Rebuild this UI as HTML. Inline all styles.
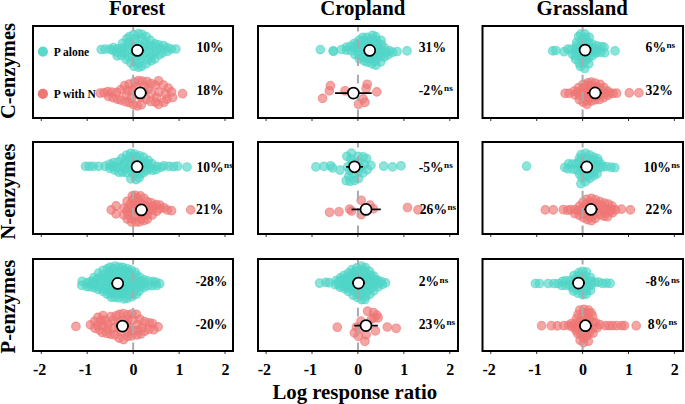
<!DOCTYPE html>
<html><head><meta charset="utf-8"><style>html,body{margin:0;padding:0;background:#fff;}svg{display:block;}</style></head>
<body><svg width="685" height="404" viewBox="0 0 685 404">
<rect width="685" height="404" fill="#fff"/>
<text x="137.1" y="15.3" font-family="'Liberation Serif', serif" font-weight="bold" font-size="20.8" text-anchor="middle">Forest</text>
<text x="362.8" y="15.3" font-family="'Liberation Serif', serif" font-weight="bold" font-size="20.8" text-anchor="middle">Cropland</text>
<text x="582.2" y="15.3" font-family="'Liberation Serif', serif" font-weight="bold" font-size="20.8" text-anchor="middle">Grassland</text>
<text transform="translate(15,71) rotate(-90)" font-family="'Liberation Serif', serif" font-weight="bold" font-size="20.6" text-anchor="middle">C-enzymes</text>
<text transform="translate(15,191.5) rotate(-90)" font-family="'Liberation Serif', serif" font-weight="bold" font-size="20.6" text-anchor="middle">N-enzymes</text>
<text transform="translate(15,306.5) rotate(-90)" font-family="'Liberation Serif', serif" font-weight="bold" font-size="20.6" text-anchor="middle">P-enzymes</text>
<text x="354.8" y="398.7" font-family="'Liberation Serif', serif" font-weight="bold" font-size="20.8" text-anchor="middle">Log response ratio</text>
<g fill="#50d6c8" fill-opacity="0.65" stroke="#50d6c8" stroke-opacity="0.65" stroke-width="1.1">
<circle cx="101.2" cy="49.5" r="4.30"/>
<circle cx="105.0" cy="49.1" r="4.30"/>
<circle cx="109.9" cy="49.1" r="4.30"/>
<circle cx="113.5" cy="47.7" r="4.30"/>
<circle cx="113.0" cy="50.5" r="4.30"/>
<circle cx="117.7" cy="48.9" r="4.30"/>
<circle cx="117.2" cy="55.9" r="4.30"/>
<circle cx="122.5" cy="43.3" r="4.30"/>
<circle cx="121.3" cy="55.4" r="4.30"/>
<circle cx="126.8" cy="38.9" r="4.30"/>
<circle cx="126.2" cy="59.4" r="4.30"/>
<circle cx="129.4" cy="36.6" r="4.30"/>
<circle cx="130.7" cy="62.8" r="4.30"/>
<circle cx="133.6" cy="34.5" r="4.30"/>
<circle cx="133.9" cy="66.2" r="4.30"/>
<circle cx="138.5" cy="33.6" r="4.30"/>
<circle cx="138.6" cy="67.2" r="4.30"/>
<circle cx="141.8" cy="34.3" r="4.30"/>
<circle cx="141.7" cy="66.3" r="4.30"/>
<circle cx="146.4" cy="36.7" r="4.30"/>
<circle cx="146.3" cy="63.7" r="4.30"/>
<circle cx="150.3" cy="40.4" r="4.30"/>
<circle cx="151.1" cy="60.9" r="4.30"/>
<circle cx="154.9" cy="43.9" r="4.30"/>
<circle cx="154.8" cy="58.9" r="4.30"/>
<circle cx="158.5" cy="44.8" r="4.30"/>
<circle cx="159.6" cy="54.6" r="4.30"/>
<circle cx="163.4" cy="45.5" r="4.30"/>
<circle cx="162.4" cy="52.9" r="4.30"/>
<circle cx="167.3" cy="47.7" r="4.30"/>
<circle cx="167.5" cy="51.2" r="4.30"/>
<circle cx="171.3" cy="49.0" r="4.30"/>
<circle cx="175.9" cy="49.0" r="4.30"/>
<circle cx="124.6" cy="52.9" r="4.30"/>
<circle cx="145.3" cy="52.9" r="4.30"/>
<circle cx="135.1" cy="61.1" r="4.30"/>
<circle cx="153.2" cy="53.7" r="4.30"/>
<circle cx="122.5" cy="48.0" r="4.30"/>
<circle cx="135.5" cy="39.4" r="4.30"/>
<circle cx="134.6" cy="51.8" r="4.30"/>
<circle cx="132.1" cy="46.0" r="4.30"/>
<circle cx="160.3" cy="48.5" r="4.30"/>
<circle cx="127.1" cy="46.5" r="4.30"/>
<circle cx="152.8" cy="46.7" r="4.30"/>
<circle cx="139.7" cy="45.2" r="4.30"/>
<circle cx="128.4" cy="42.9" r="4.30"/>
<circle cx="116.5" cy="52.1" r="4.30"/>
<circle cx="136.8" cy="55.2" r="4.30"/>
<circle cx="141.9" cy="38.3" r="4.30"/>
<circle cx="149.4" cy="50.9" r="4.30"/>
<circle cx="144.7" cy="43.2" r="4.30"/>
<circle cx="140.7" cy="51.0" r="4.30"/>
<circle cx="150.9" cy="56.5" r="4.30"/>
<circle cx="134.4" cy="42.7" r="4.30"/>
<circle cx="129.6" cy="49.3" r="4.30"/>
<circle cx="140.5" cy="58.6" r="4.30"/>
<circle cx="156.7" cy="50.4" r="4.30"/>
<circle cx="121.3" cy="51.6" r="4.30"/>
<circle cx="139.0" cy="63.2" r="4.30"/>
<circle cx="137.7" cy="48.4" r="4.30"/>
<circle cx="149.0" cy="45.3" r="4.30"/>
<circle cx="147.9" cy="59.5" r="4.30"/>
<circle cx="144.5" cy="47.1" r="4.30"/>
<circle cx="132.5" cy="55.7" r="4.30"/>
<circle cx="128.2" cy="56.6" r="4.30"/>
<circle cx="142.1" cy="54.9" r="4.30"/>
</g>
<g fill="#ee7674" fill-opacity="0.65" stroke="#ee7674" stroke-opacity="0.65" stroke-width="1.1">
<circle cx="100.1" cy="93.1" r="4.30"/>
<circle cx="104.1" cy="92.7" r="4.30"/>
<circle cx="107.8" cy="91.7" r="4.30"/>
<circle cx="108.5" cy="96.4" r="4.30"/>
<circle cx="111.7" cy="92.1" r="4.30"/>
<circle cx="112.9" cy="97.6" r="4.30"/>
<circle cx="116.8" cy="92.4" r="4.30"/>
<circle cx="117.3" cy="99.1" r="4.30"/>
<circle cx="120.8" cy="89.7" r="4.30"/>
<circle cx="121.0" cy="100.1" r="4.30"/>
<circle cx="124.6" cy="85.7" r="4.30"/>
<circle cx="125.5" cy="101.7" r="4.30"/>
<circle cx="129.2" cy="84.1" r="4.30"/>
<circle cx="129.4" cy="102.6" r="4.30"/>
<circle cx="134.4" cy="82.2" r="4.30"/>
<circle cx="133.4" cy="104.5" r="4.30"/>
<circle cx="138.3" cy="80.6" r="4.30"/>
<circle cx="137.3" cy="106.0" r="4.30"/>
<circle cx="142.2" cy="81.0" r="4.30"/>
<circle cx="141.4" cy="104.6" r="4.30"/>
<circle cx="147.0" cy="81.5" r="4.30"/>
<circle cx="146.3" cy="99.3" r="4.30"/>
<circle cx="151.1" cy="83.7" r="4.30"/>
<circle cx="150.5" cy="101.4" r="4.30"/>
<circle cx="155.4" cy="85.1" r="4.30"/>
<circle cx="155.6" cy="102.1" r="4.30"/>
<circle cx="158.6" cy="80.8" r="4.30"/>
<circle cx="158.6" cy="104.4" r="4.30"/>
<circle cx="163.4" cy="85.0" r="4.30"/>
<circle cx="163.9" cy="102.2" r="4.30"/>
<circle cx="168.3" cy="88.0" r="4.30"/>
<circle cx="166.9" cy="99.1" r="4.30"/>
<circle cx="172.6" cy="97.5" r="4.30"/>
<circle cx="148.0" cy="89.5" r="4.30"/>
<circle cx="156.4" cy="97.4" r="4.30"/>
<circle cx="132.3" cy="90.0" r="4.30"/>
<circle cx="159.1" cy="92.0" r="4.30"/>
<circle cx="151.2" cy="93.5" r="4.30"/>
<circle cx="143.6" cy="91.9" r="4.30"/>
<circle cx="165.4" cy="93.7" r="4.30"/>
<circle cx="126.4" cy="95.2" r="4.30"/>
<circle cx="136.7" cy="94.3" r="4.30"/>
<circle cx="144.5" cy="86.4" r="4.30"/>
<circle cx="140.8" cy="97.1" r="4.30"/>
<circle cx="131.4" cy="98.2" r="4.30"/>
<circle cx="127.4" cy="90.4" r="4.30"/>
<circle cx="171.6" cy="91.9" r="4.30"/>
<circle cx="136.1" cy="86.9" r="4.30"/>
<circle cx="182.5" cy="93.7" r="4.30"/>
</g>
<line x1="133.15" y1="118" x2="133.15" y2="26" stroke="#aaaaaa" stroke-width="2" stroke-dasharray="8.6,8.7"/>
<line x1="131" y1="50.4" x2="144" y2="50.4" stroke="#000" stroke-width="1.7"/>
<circle cx="137.4" cy="50.4" r="5.5" fill="#fff" stroke="#000" stroke-width="1.7"/>
<line x1="134" y1="92.9" x2="147" y2="92.9" stroke="#000" stroke-width="1.7"/>
<circle cx="140.3" cy="92.9" r="5.5" fill="#fff" stroke="#000" stroke-width="1.7"/>
<rect x="33" y="26" width="200" height="92" fill="none" stroke="#000" stroke-width="2"/>
<line x1="41.3" y1="119" x2="41.3" y2="121" stroke="#333" stroke-width="1"/>
<line x1="87.2" y1="119" x2="87.2" y2="121" stroke="#333" stroke-width="1"/>
<line x1="133.2" y1="119" x2="133.2" y2="121" stroke="#333" stroke-width="1"/>
<line x1="179.1" y1="119" x2="179.1" y2="121" stroke="#333" stroke-width="1"/>
<line x1="225.0" y1="119" x2="225.0" y2="121" stroke="#333" stroke-width="1"/>
<g fill="#50d6c8" fill-opacity="0.65" stroke="#50d6c8" stroke-opacity="0.65" stroke-width="1.1">
<circle cx="105.1" cy="166.2" r="4.30"/>
<circle cx="109.7" cy="164.2" r="4.30"/>
<circle cx="109.8" cy="168.4" r="4.30"/>
<circle cx="113.6" cy="162.7" r="4.30"/>
<circle cx="114.5" cy="170.0" r="4.30"/>
<circle cx="118.3" cy="161.8" r="4.30"/>
<circle cx="118.9" cy="172.2" r="4.30"/>
<circle cx="121.9" cy="158.4" r="4.30"/>
<circle cx="122.5" cy="172.1" r="4.30"/>
<circle cx="126.5" cy="155.1" r="4.30"/>
<circle cx="126.7" cy="172.7" r="4.30"/>
<circle cx="130.8" cy="153.4" r="4.30"/>
<circle cx="130.8" cy="178.9" r="4.30"/>
<circle cx="134.7" cy="154.0" r="4.30"/>
<circle cx="136.0" cy="179.6" r="4.30"/>
<circle cx="139.7" cy="155.8" r="4.30"/>
<circle cx="139.1" cy="177.7" r="4.30"/>
<circle cx="143.4" cy="157.2" r="4.30"/>
<circle cx="143.6" cy="172.6" r="4.30"/>
<circle cx="148.2" cy="160.4" r="4.30"/>
<circle cx="147.0" cy="170.3" r="4.30"/>
<circle cx="151.9" cy="163.7" r="4.30"/>
<circle cx="152.5" cy="170.2" r="4.30"/>
<circle cx="156.8" cy="166.4" r="4.30"/>
<circle cx="156.1" cy="169.6" r="4.30"/>
<circle cx="160.9" cy="167.3" r="4.30"/>
<circle cx="163.8" cy="165.9" r="4.30"/>
<circle cx="168.8" cy="166.4" r="4.30"/>
<circle cx="173.4" cy="166.6" r="4.30"/>
<circle cx="177.6" cy="166.2" r="4.30"/>
<circle cx="135.6" cy="169.2" r="4.30"/>
<circle cx="129.7" cy="166.0" r="4.30"/>
<circle cx="125.4" cy="160.2" r="4.30"/>
<circle cx="142.3" cy="164.3" r="4.30"/>
<circle cx="138.9" cy="166.5" r="4.30"/>
<circle cx="147.5" cy="164.0" r="4.30"/>
<circle cx="125.4" cy="168.9" r="4.30"/>
<circle cx="121.8" cy="166.1" r="4.30"/>
<circle cx="112.5" cy="166.5" r="4.30"/>
<circle cx="140.4" cy="173.9" r="4.30"/>
<circle cx="131.0" cy="162.9" r="4.30"/>
<circle cx="117.5" cy="167.0" r="4.30"/>
<circle cx="149.9" cy="168.0" r="4.30"/>
<circle cx="130.4" cy="156.8" r="4.30"/>
<circle cx="138.5" cy="160.6" r="4.30"/>
<circle cx="133.8" cy="174.6" r="4.30"/>
<circle cx="131.6" cy="171.1" r="4.30"/>
<circle cx="143.1" cy="168.4" r="4.30"/>
<circle cx="134.6" cy="161.1" r="4.30"/>
<circle cx="144.7" cy="162.0" r="4.30"/>
<circle cx="136.4" cy="156.9" r="4.30"/>
<circle cx="137.3" cy="172.4" r="4.30"/>
<circle cx="124.2" cy="163.8" r="4.30"/>
<circle cx="134.8" cy="164.8" r="4.30"/>
<circle cx="85.5" cy="166.3" r="4.30"/>
<circle cx="89.3" cy="166.3" r="4.30"/>
<circle cx="93.1" cy="166.3" r="4.30"/>
<circle cx="98.7" cy="166.3" r="4.30"/>
<circle cx="187.0" cy="167.0" r="4.30"/>
</g>
<g fill="#ee7674" fill-opacity="0.65" stroke="#ee7674" stroke-opacity="0.65" stroke-width="1.1">
<circle cx="124.0" cy="208.2" r="4.30"/>
<circle cx="123.9" cy="215.0" r="4.30"/>
<circle cx="127.1" cy="201.4" r="4.30"/>
<circle cx="127.2" cy="219.0" r="4.30"/>
<circle cx="132.3" cy="195.9" r="4.30"/>
<circle cx="131.5" cy="222.0" r="4.30"/>
<circle cx="135.3" cy="195.4" r="4.30"/>
<circle cx="135.9" cy="222.0" r="4.30"/>
<circle cx="140.4" cy="195.9" r="4.30"/>
<circle cx="139.5" cy="221.9" r="4.30"/>
<circle cx="143.9" cy="198.3" r="4.30"/>
<circle cx="144.0" cy="220.5" r="4.30"/>
<circle cx="147.5" cy="201.7" r="4.30"/>
<circle cx="147.4" cy="219.1" r="4.30"/>
<circle cx="151.4" cy="202.8" r="4.30"/>
<circle cx="152.3" cy="215.0" r="4.30"/>
<circle cx="156.1" cy="204.7" r="4.30"/>
<circle cx="156.8" cy="211.2" r="4.30"/>
<circle cx="159.8" cy="205.0" r="4.30"/>
<circle cx="159.9" cy="208.6" r="4.30"/>
<circle cx="164.1" cy="207.8" r="4.30"/>
<circle cx="167.5" cy="210.0" r="4.30"/>
<circle cx="171.6" cy="210.7" r="4.30"/>
<circle cx="131.4" cy="212.2" r="4.30"/>
<circle cx="126.7" cy="210.9" r="4.30"/>
<circle cx="134.6" cy="205.7" r="4.30"/>
<circle cx="140.1" cy="202.8" r="4.30"/>
<circle cx="143.2" cy="213.9" r="4.30"/>
<circle cx="128.3" cy="214.4" r="4.30"/>
<circle cx="131.4" cy="218.6" r="4.30"/>
<circle cx="141.0" cy="218.7" r="4.30"/>
<circle cx="133.4" cy="209.1" r="4.30"/>
<circle cx="147.2" cy="206.9" r="4.30"/>
<circle cx="141.9" cy="209.4" r="4.30"/>
<circle cx="137.3" cy="208.6" r="4.30"/>
<circle cx="147.2" cy="214.6" r="4.30"/>
<circle cx="135.2" cy="216.1" r="4.30"/>
<circle cx="132.7" cy="199.7" r="4.30"/>
<circle cx="152.7" cy="206.2" r="4.30"/>
<circle cx="152.2" cy="209.9" r="4.30"/>
<circle cx="139.6" cy="212.6" r="4.30"/>
<circle cx="148.6" cy="210.0" r="4.30"/>
<circle cx="130.4" cy="204.3" r="4.30"/>
<circle cx="128.7" cy="208.1" r="4.30"/>
<circle cx="142.8" cy="204.7" r="4.30"/>
<circle cx="137.3" cy="198.1" r="4.30"/>
<circle cx="136.0" cy="201.4" r="4.30"/>
<circle cx="111.2" cy="209.9" r="4.30"/>
<circle cx="116.1" cy="205.9" r="4.30"/>
<circle cx="116.1" cy="213.9" r="4.30"/>
<circle cx="190.7" cy="209.9" r="4.30"/>
</g>
<line x1="133.15" y1="234" x2="133.15" y2="142" stroke="#aaaaaa" stroke-width="2" stroke-dasharray="8.6,8.7"/>
<line x1="131" y1="166.7" x2="143" y2="166.7" stroke="#000" stroke-width="1.7"/>
<circle cx="137.1" cy="166.7" r="5.5" fill="#fff" stroke="#000" stroke-width="1.7"/>
<line x1="135" y1="209.9" x2="148" y2="209.9" stroke="#000" stroke-width="1.7"/>
<circle cx="141.4" cy="209.9" r="5.5" fill="#fff" stroke="#000" stroke-width="1.7"/>
<rect x="33" y="142" width="200" height="92" fill="none" stroke="#000" stroke-width="2"/>
<line x1="41.3" y1="235" x2="41.3" y2="237" stroke="#333" stroke-width="1"/>
<line x1="87.2" y1="235" x2="87.2" y2="237" stroke="#333" stroke-width="1"/>
<line x1="133.2" y1="235" x2="133.2" y2="237" stroke="#333" stroke-width="1"/>
<line x1="179.1" y1="235" x2="179.1" y2="237" stroke="#333" stroke-width="1"/>
<line x1="225.0" y1="235" x2="225.0" y2="237" stroke="#333" stroke-width="1"/>
<g fill="#50d6c8" fill-opacity="0.65" stroke="#50d6c8" stroke-opacity="0.65" stroke-width="1.1">
<circle cx="82.2" cy="281.3" r="4.30"/>
<circle cx="81.8" cy="285.4" r="4.30"/>
<circle cx="86.8" cy="283.1" r="4.30"/>
<circle cx="86.9" cy="286.5" r="4.30"/>
<circle cx="90.0" cy="281.8" r="4.30"/>
<circle cx="89.6" cy="286.7" r="4.30"/>
<circle cx="94.0" cy="277.5" r="4.30"/>
<circle cx="94.0" cy="287.6" r="4.30"/>
<circle cx="98.5" cy="273.2" r="4.30"/>
<circle cx="98.3" cy="289.5" r="4.30"/>
<circle cx="103.2" cy="270.3" r="4.30"/>
<circle cx="103.2" cy="291.5" r="4.30"/>
<circle cx="107.5" cy="268.6" r="4.30"/>
<circle cx="107.1" cy="294.1" r="4.30"/>
<circle cx="110.2" cy="267.2" r="4.30"/>
<circle cx="111.2" cy="297.1" r="4.30"/>
<circle cx="115.2" cy="266.2" r="4.30"/>
<circle cx="114.9" cy="297.4" r="4.30"/>
<circle cx="119.3" cy="267.2" r="4.30"/>
<circle cx="118.5" cy="297.9" r="4.30"/>
<circle cx="122.8" cy="267.4" r="4.30"/>
<circle cx="123.9" cy="298.9" r="4.30"/>
<circle cx="126.9" cy="268.6" r="4.30"/>
<circle cx="127.1" cy="298.2" r="4.30"/>
<circle cx="131.3" cy="270.0" r="4.30"/>
<circle cx="131.9" cy="296.8" r="4.30"/>
<circle cx="135.3" cy="272.3" r="4.30"/>
<circle cx="136.3" cy="294.3" r="4.30"/>
<circle cx="139.8" cy="277.1" r="4.30"/>
<circle cx="139.0" cy="291.3" r="4.30"/>
<circle cx="144.0" cy="279.9" r="4.30"/>
<circle cx="143.5" cy="287.6" r="4.30"/>
<circle cx="148.0" cy="281.0" r="4.30"/>
<circle cx="147.4" cy="286.0" r="4.30"/>
<circle cx="152.7" cy="281.6" r="4.30"/>
<circle cx="152.0" cy="285.6" r="4.30"/>
<circle cx="155.8" cy="282.0" r="4.30"/>
<circle cx="156.6" cy="285.5" r="4.30"/>
<circle cx="159.7" cy="283.7" r="4.30"/>
<circle cx="102.5" cy="279.9" r="4.30"/>
<circle cx="98.8" cy="278.4" r="4.30"/>
<circle cx="112.9" cy="290.1" r="4.30"/>
<circle cx="113.6" cy="281.3" r="4.30"/>
<circle cx="135.4" cy="280.9" r="4.30"/>
<circle cx="123.2" cy="273.7" r="4.30"/>
<circle cx="135.3" cy="284.6" r="4.30"/>
<circle cx="102.4" cy="275.0" r="4.30"/>
<circle cx="107.6" cy="274.9" r="4.30"/>
<circle cx="109.1" cy="290.1" r="4.30"/>
<circle cx="123.4" cy="293.4" r="4.30"/>
<circle cx="127.9" cy="281.0" r="4.30"/>
<circle cx="141.0" cy="281.8" r="4.30"/>
<circle cx="102.1" cy="288.6" r="4.30"/>
<circle cx="97.6" cy="286.5" r="4.30"/>
<circle cx="96.7" cy="280.7" r="4.30"/>
<circle cx="94.9" cy="283.8" r="4.30"/>
<circle cx="119.3" cy="284.4" r="4.30"/>
<circle cx="129.1" cy="291.3" r="4.30"/>
<circle cx="144.1" cy="283.1" r="4.30"/>
<circle cx="125.2" cy="284.7" r="4.30"/>
<circle cx="108.9" cy="272.0" r="4.30"/>
<circle cx="107.2" cy="282.0" r="4.30"/>
<circle cx="113.6" cy="293.3" r="4.30"/>
<circle cx="124.2" cy="280.3" r="4.30"/>
<circle cx="119.5" cy="275.5" r="4.30"/>
<circle cx="120.3" cy="294.0" r="4.30"/>
<circle cx="126.6" cy="277.7" r="4.30"/>
<circle cx="105.6" cy="285.7" r="4.30"/>
<circle cx="135.9" cy="288.3" r="4.30"/>
<circle cx="109.7" cy="277.5" r="4.30"/>
<circle cx="128.8" cy="271.8" r="4.30"/>
<circle cx="124.5" cy="290.4" r="4.30"/>
<circle cx="110.2" cy="284.2" r="4.30"/>
<circle cx="116.4" cy="272.2" r="4.30"/>
<circle cx="114.2" cy="285.0" r="4.30"/>
<circle cx="100.6" cy="282.8" r="4.30"/>
<circle cx="131.1" cy="281.9" r="4.30"/>
<circle cx="140.4" cy="286.2" r="4.30"/>
<circle cx="119.3" cy="290.5" r="4.30"/>
<circle cx="123.2" cy="287.3" r="4.30"/>
<circle cx="130.2" cy="274.9" r="4.30"/>
<circle cx="131.9" cy="285.6" r="4.30"/>
<circle cx="111.9" cy="273.1" r="4.30"/>
<circle cx="114.5" cy="277.8" r="4.30"/>
<circle cx="127.0" cy="288.3" r="4.30"/>
<circle cx="132.3" cy="277.6" r="4.30"/>
<circle cx="118.0" cy="281.5" r="4.30"/>
<circle cx="124.2" cy="270.4" r="4.30"/>
<circle cx="136.1" cy="275.5" r="4.30"/>
<circle cx="121.1" cy="278.2" r="4.30"/>
<circle cx="120.9" cy="270.4" r="4.30"/>
<circle cx="128.7" cy="284.7" r="4.30"/>
<circle cx="110.5" cy="293.3" r="4.30"/>
<circle cx="133.0" cy="293.3" r="4.30"/>
<circle cx="128.1" cy="294.6" r="4.30"/>
<circle cx="105.5" cy="289.2" r="4.30"/>
<circle cx="117.1" cy="293.8" r="4.30"/>
<circle cx="130.8" cy="288.6" r="4.30"/>
<circle cx="138.4" cy="283.7" r="4.30"/>
<circle cx="106.2" cy="277.8" r="4.30"/>
<circle cx="110.8" cy="287.3" r="4.30"/>
<circle cx="116.0" cy="290.8" r="4.30"/>
<circle cx="113.3" cy="268.9" r="4.30"/>
<circle cx="93.1" cy="281.0" r="4.30"/>
<circle cx="91.9" cy="284.4" r="4.30"/>
</g>
<g fill="#ee7674" fill-opacity="0.65" stroke="#ee7674" stroke-opacity="0.65" stroke-width="1.1">
<circle cx="90.4" cy="324.8" r="4.30"/>
<circle cx="94.7" cy="321.3" r="4.30"/>
<circle cx="94.9" cy="328.1" r="4.30"/>
<circle cx="97.9" cy="317.4" r="4.30"/>
<circle cx="99.2" cy="329.8" r="4.30"/>
<circle cx="103.0" cy="315.6" r="4.30"/>
<circle cx="102.3" cy="332.5" r="4.30"/>
<circle cx="106.8" cy="333.4" r="4.30"/>
<circle cx="110.7" cy="316.7" r="4.30"/>
<circle cx="110.6" cy="334.1" r="4.30"/>
<circle cx="116.0" cy="315.8" r="4.30"/>
<circle cx="114.8" cy="335.0" r="4.30"/>
<circle cx="119.4" cy="314.4" r="4.30"/>
<circle cx="119.1" cy="338.1" r="4.30"/>
<circle cx="123.3" cy="313.6" r="4.30"/>
<circle cx="123.5" cy="339.6" r="4.30"/>
<circle cx="128.0" cy="314.8" r="4.30"/>
<circle cx="127.8" cy="336.5" r="4.30"/>
<circle cx="132.0" cy="313.8" r="4.30"/>
<circle cx="131.6" cy="335.8" r="4.30"/>
<circle cx="136.3" cy="314.4" r="4.30"/>
<circle cx="136.9" cy="335.0" r="4.30"/>
<circle cx="140.0" cy="319.4" r="4.30"/>
<circle cx="140.8" cy="334.0" r="4.30"/>
<circle cx="144.5" cy="321.6" r="4.30"/>
<circle cx="144.7" cy="331.2" r="4.30"/>
<circle cx="149.2" cy="322.8" r="4.30"/>
<circle cx="148.8" cy="329.2" r="4.30"/>
<circle cx="152.6" cy="323.5" r="4.30"/>
<circle cx="153.8" cy="329.7" r="4.30"/>
<circle cx="158.1" cy="326.9" r="4.30"/>
<circle cx="137.5" cy="324.5" r="4.30"/>
<circle cx="107.9" cy="328.7" r="4.30"/>
<circle cx="118.3" cy="321.9" r="4.30"/>
<circle cx="97.9" cy="325.2" r="4.30"/>
<circle cx="138.1" cy="330.4" r="4.30"/>
<circle cx="132.7" cy="319.8" r="4.30"/>
<circle cx="128.0" cy="331.9" r="4.30"/>
<circle cx="113.3" cy="328.1" r="4.30"/>
<circle cx="127.7" cy="319.6" r="4.30"/>
<circle cx="102.9" cy="325.3" r="4.30"/>
<circle cx="123.4" cy="327.5" r="4.30"/>
<circle cx="123.6" cy="320.9" r="4.30"/>
<circle cx="105.1" cy="320.2" r="4.30"/>
<circle cx="129.6" cy="327.6" r="4.30"/>
<circle cx="118.7" cy="327.7" r="4.30"/>
<circle cx="120.7" cy="331.7" r="4.30"/>
<circle cx="112.9" cy="320.6" r="4.30"/>
<circle cx="142.0" cy="327.5" r="4.30"/>
<circle cx="126.4" cy="324.4" r="4.30"/>
<circle cx="132.8" cy="330.4" r="4.30"/>
<circle cx="108.0" cy="324.3" r="4.30"/>
<circle cx="100.9" cy="320.6" r="4.30"/>
<circle cx="75.9" cy="326.4" r="4.30"/>
</g>
<line x1="133.15" y1="351" x2="133.15" y2="259" stroke="#aaaaaa" stroke-width="2" stroke-dasharray="8.6,8.7"/>
<line x1="111" y1="283.4" x2="124" y2="283.4" stroke="#000" stroke-width="1.7"/>
<circle cx="117.7" cy="283.4" r="5.5" fill="#fff" stroke="#000" stroke-width="1.7"/>
<line x1="116" y1="326.1" x2="129" y2="326.1" stroke="#000" stroke-width="1.7"/>
<circle cx="122.5" cy="326.1" r="5.5" fill="#fff" stroke="#000" stroke-width="1.7"/>
<rect x="33" y="259" width="200" height="92" fill="none" stroke="#000" stroke-width="2"/>
<line x1="41.3" y1="352" x2="41.3" y2="354" stroke="#333" stroke-width="1"/>
<line x1="87.2" y1="352" x2="87.2" y2="354" stroke="#333" stroke-width="1"/>
<line x1="133.2" y1="352" x2="133.2" y2="354" stroke="#333" stroke-width="1"/>
<line x1="179.1" y1="352" x2="179.1" y2="354" stroke="#333" stroke-width="1"/>
<line x1="225.0" y1="352" x2="225.0" y2="354" stroke="#333" stroke-width="1"/>
<text x="46.3" y="374.6" font-family="'Liberation Serif', serif" font-weight="bold" font-size="16" text-anchor="end">-2</text>
<text x="92.2" y="374.6" font-family="'Liberation Serif', serif" font-weight="bold" font-size="16" text-anchor="end">-1</text>
<text x="137.6" y="374.6" font-family="'Liberation Serif', serif" font-weight="bold" font-size="16" text-anchor="end">0</text>
<text x="183.5" y="374.6" font-family="'Liberation Serif', serif" font-weight="bold" font-size="16" text-anchor="end">1</text>
<text x="229.4" y="374.6" font-family="'Liberation Serif', serif" font-weight="bold" font-size="16" text-anchor="end">2</text>
<g fill="#50d6c8" fill-opacity="0.65" stroke="#50d6c8" stroke-opacity="0.65" stroke-width="1.1">
<circle cx="346.5" cy="47.0" r="4.30"/>
<circle cx="346.5" cy="50.1" r="4.30"/>
<circle cx="350.9" cy="46.1" r="4.30"/>
<circle cx="351.3" cy="50.7" r="4.30"/>
<circle cx="354.4" cy="43.3" r="4.30"/>
<circle cx="355.0" cy="54.6" r="4.30"/>
<circle cx="359.3" cy="40.0" r="4.30"/>
<circle cx="359.3" cy="58.8" r="4.30"/>
<circle cx="362.9" cy="37.3" r="4.30"/>
<circle cx="364.3" cy="61.0" r="4.30"/>
<circle cx="367.0" cy="37.4" r="4.30"/>
<circle cx="367.5" cy="62.2" r="4.30"/>
<circle cx="372.6" cy="35.4" r="4.30"/>
<circle cx="372.1" cy="63.9" r="4.30"/>
<circle cx="375.7" cy="36.7" r="4.30"/>
<circle cx="376.0" cy="65.1" r="4.30"/>
<circle cx="381.1" cy="40.4" r="4.30"/>
<circle cx="380.8" cy="61.8" r="4.30"/>
<circle cx="384.2" cy="47.6" r="4.30"/>
<circle cx="384.4" cy="57.0" r="4.30"/>
<circle cx="389.5" cy="50.7" r="4.30"/>
<circle cx="388.1" cy="54.9" r="4.30"/>
<circle cx="392.5" cy="52.2" r="4.30"/>
<circle cx="397.0" cy="51.5" r="4.30"/>
<circle cx="370.0" cy="46.2" r="4.30"/>
<circle cx="375.2" cy="61.2" r="4.30"/>
<circle cx="371.4" cy="58.9" r="4.30"/>
<circle cx="370.2" cy="55.3" r="4.30"/>
<circle cx="358.0" cy="46.8" r="4.30"/>
<circle cx="377.7" cy="45.1" r="4.30"/>
<circle cx="367.3" cy="48.5" r="4.30"/>
<circle cx="358.1" cy="50.9" r="4.30"/>
<circle cx="366.9" cy="44.7" r="4.30"/>
<circle cx="365.0" cy="54.5" r="4.30"/>
<circle cx="362.5" cy="45.8" r="4.30"/>
<circle cx="363.3" cy="49.4" r="4.30"/>
<circle cx="374.7" cy="55.1" r="4.30"/>
<circle cx="373.8" cy="49.1" r="4.30"/>
<circle cx="373.4" cy="42.2" r="4.30"/>
<circle cx="371.1" cy="50.9" r="4.30"/>
<circle cx="381.7" cy="50.4" r="4.30"/>
<circle cx="354.5" cy="47.6" r="4.30"/>
<circle cx="379.8" cy="53.2" r="4.30"/>
<circle cx="368.0" cy="41.1" r="4.30"/>
<circle cx="385.9" cy="52.2" r="4.30"/>
<circle cx="377.2" cy="49.5" r="4.30"/>
<circle cx="363.4" cy="40.7" r="4.30"/>
<circle cx="357.9" cy="43.4" r="4.30"/>
<circle cx="377.0" cy="57.7" r="4.30"/>
<circle cx="358.9" cy="54.9" r="4.30"/>
<circle cx="376.7" cy="40.6" r="4.30"/>
<circle cx="381.5" cy="44.8" r="4.30"/>
<circle cx="367.8" cy="58.4" r="4.30"/>
<circle cx="371.9" cy="38.8" r="4.30"/>
<circle cx="381.0" cy="56.4" r="4.30"/>
<circle cx="363.3" cy="57.4" r="4.30"/>
<circle cx="320.3" cy="49.6" r="4.30"/>
<circle cx="333.1" cy="50.9" r="4.30"/>
<circle cx="333.6" cy="51.3" r="4.30"/>
<circle cx="341.5" cy="49.5" r="4.30"/>
<circle cx="407.0" cy="50.9" r="4.30"/>
</g>
<g fill="#ee7674" fill-opacity="0.65" stroke="#ee7674" stroke-opacity="0.65" stroke-width="1.1">
<circle cx="322.6" cy="98.4" r="4.30"/>
<circle cx="329.3" cy="90.8" r="4.30"/>
<circle cx="330.4" cy="85.7" r="4.30"/>
<circle cx="345.0" cy="90.8" r="4.30"/>
<circle cx="367.2" cy="84.3" r="4.30"/>
<circle cx="366.1" cy="88.4" r="4.30"/>
<circle cx="376.8" cy="91.9" r="4.30"/>
<circle cx="363.1" cy="98.9" r="4.30"/>
<circle cx="364.9" cy="102.4" r="4.30"/>
<circle cx="358.5" cy="104.2" r="4.30"/>
</g>
<line x1="357.95" y1="118" x2="357.95" y2="26" stroke="#aaaaaa" stroke-width="2" stroke-dasharray="8.6,8.7"/>
<line x1="363" y1="50.4" x2="376" y2="50.4" stroke="#000" stroke-width="1.7"/>
<circle cx="369.7" cy="50.4" r="5.5" fill="#fff" stroke="#000" stroke-width="1.7"/>
<line x1="335.1" y1="93.1" x2="371.7" y2="93.1" stroke="#000" stroke-width="1.7"/>
<circle cx="353.4" cy="93.1" r="5.5" fill="#fff" stroke="#000" stroke-width="1.7"/>
<rect x="258" y="26" width="200" height="92" fill="none" stroke="#000" stroke-width="2"/>
<line x1="266.1" y1="119" x2="266.1" y2="121" stroke="#333" stroke-width="1"/>
<line x1="312.0" y1="119" x2="312.0" y2="121" stroke="#333" stroke-width="1"/>
<line x1="357.9" y1="119" x2="357.9" y2="121" stroke="#333" stroke-width="1"/>
<line x1="403.9" y1="119" x2="403.9" y2="121" stroke="#333" stroke-width="1"/>
<line x1="449.8" y1="119" x2="449.8" y2="121" stroke="#333" stroke-width="1"/>
<g fill="#50d6c8" fill-opacity="0.65" stroke="#50d6c8" stroke-opacity="0.65" stroke-width="1.1">
<circle cx="346.9" cy="156.4" r="4.30"/>
<circle cx="346.2" cy="180.7" r="4.30"/>
<circle cx="351.5" cy="153.2" r="4.30"/>
<circle cx="350.2" cy="181.3" r="4.30"/>
<circle cx="354.5" cy="180.5" r="4.30"/>
<circle cx="358.1" cy="156.4" r="4.30"/>
<circle cx="358.5" cy="178.6" r="4.30"/>
<circle cx="363.1" cy="156.8" r="4.30"/>
<circle cx="362.8" cy="172.9" r="4.30"/>
<circle cx="366.6" cy="158.5" r="4.30"/>
<circle cx="367.4" cy="169.6" r="4.30"/>
<circle cx="370.9" cy="165.3" r="4.30"/>
<circle cx="364.5" cy="164.3" r="4.30"/>
<circle cx="350.7" cy="159.1" r="4.30"/>
<circle cx="357.9" cy="162.1" r="4.30"/>
<circle cx="349.8" cy="170.7" r="4.30"/>
<circle cx="355.0" cy="167.6" r="4.30"/>
<circle cx="360.4" cy="166.9" r="4.30"/>
<circle cx="353.1" cy="173.7" r="4.30"/>
<circle cx="348.9" cy="176.2" r="4.30"/>
<circle cx="347.7" cy="166.8" r="4.30"/>
<circle cx="358.3" cy="171.9" r="4.30"/>
<circle cx="352.4" cy="163.1" r="4.30"/>
<circle cx="315.9" cy="166.9" r="4.30"/>
<circle cx="324.0" cy="166.4" r="4.30"/>
<circle cx="330.7" cy="165.8" r="4.30"/>
<circle cx="332.6" cy="168.0" r="4.30"/>
<circle cx="340.0" cy="170.1" r="4.30"/>
<circle cx="383.7" cy="166.1" r="4.30"/>
<circle cx="392.5" cy="166.9" r="4.30"/>
<circle cx="401.0" cy="165.8" r="4.30"/>
</g>
<g fill="#ee7674" fill-opacity="0.65" stroke="#ee7674" stroke-opacity="0.65" stroke-width="1.1">
<circle cx="329.6" cy="212.3" r="4.30"/>
<circle cx="339.0" cy="211.8" r="4.30"/>
<circle cx="349.6" cy="209.1" r="4.30"/>
<circle cx="351.6" cy="211.0" r="4.30"/>
<circle cx="361.2" cy="200.3" r="4.30"/>
<circle cx="361.2" cy="214.7" r="4.30"/>
<circle cx="370.0" cy="205.1" r="4.30"/>
<circle cx="373.3" cy="208.8" r="4.30"/>
<circle cx="407.5" cy="207.5" r="4.30"/>
<circle cx="418.0" cy="209.9" r="4.30"/>
</g>
<line x1="357.95" y1="234" x2="357.95" y2="142" stroke="#aaaaaa" stroke-width="2" stroke-dasharray="8.6,8.7"/>
<line x1="346.1" y1="166.8" x2="363" y2="166.8" stroke="#000" stroke-width="1.7"/>
<circle cx="354.5" cy="166.8" r="5.5" fill="#fff" stroke="#000" stroke-width="1.7"/>
<line x1="351.6" y1="209.4" x2="380.8" y2="209.4" stroke="#000" stroke-width="1.7"/>
<circle cx="366" cy="209.4" r="5.5" fill="#fff" stroke="#000" stroke-width="1.7"/>
<rect x="258" y="142" width="200" height="92" fill="none" stroke="#000" stroke-width="2"/>
<line x1="266.1" y1="235" x2="266.1" y2="237" stroke="#333" stroke-width="1"/>
<line x1="312.0" y1="235" x2="312.0" y2="237" stroke="#333" stroke-width="1"/>
<line x1="357.9" y1="235" x2="357.9" y2="237" stroke="#333" stroke-width="1"/>
<line x1="403.9" y1="235" x2="403.9" y2="237" stroke="#333" stroke-width="1"/>
<line x1="449.8" y1="235" x2="449.8" y2="237" stroke="#333" stroke-width="1"/>
<g fill="#50d6c8" fill-opacity="0.65" stroke="#50d6c8" stroke-opacity="0.65" stroke-width="1.1">
<circle cx="336.2" cy="280.6" r="4.30"/>
<circle cx="335.3" cy="284.7" r="4.30"/>
<circle cx="340.5" cy="277.9" r="4.30"/>
<circle cx="340.1" cy="287.1" r="4.30"/>
<circle cx="344.2" cy="275.3" r="4.30"/>
<circle cx="344.8" cy="288.9" r="4.30"/>
<circle cx="348.3" cy="273.1" r="4.30"/>
<circle cx="348.7" cy="291.5" r="4.30"/>
<circle cx="351.8" cy="269.7" r="4.30"/>
<circle cx="353.0" cy="295.1" r="4.30"/>
<circle cx="356.8" cy="267.9" r="4.30"/>
<circle cx="357.3" cy="297.4" r="4.30"/>
<circle cx="361.4" cy="266.1" r="4.30"/>
<circle cx="361.6" cy="299.6" r="4.30"/>
<circle cx="365.3" cy="267.5" r="4.30"/>
<circle cx="365.0" cy="299.5" r="4.30"/>
<circle cx="369.5" cy="271.4" r="4.30"/>
<circle cx="369.8" cy="294.4" r="4.30"/>
<circle cx="373.9" cy="276.2" r="4.30"/>
<circle cx="373.8" cy="290.9" r="4.30"/>
<circle cx="377.8" cy="280.2" r="4.30"/>
<circle cx="378.3" cy="286.7" r="4.30"/>
<circle cx="381.4" cy="281.6" r="4.30"/>
<circle cx="382.3" cy="284.5" r="4.30"/>
<circle cx="385.5" cy="282.8" r="4.30"/>
<circle cx="362.7" cy="276.5" r="4.30"/>
<circle cx="370.7" cy="281.5" r="4.30"/>
<circle cx="349.6" cy="282.6" r="4.30"/>
<circle cx="362.7" cy="290.5" r="4.30"/>
<circle cx="366.9" cy="290.8" r="4.30"/>
<circle cx="341.5" cy="283.2" r="4.30"/>
<circle cx="361.8" cy="293.6" r="4.30"/>
<circle cx="355.4" cy="271.4" r="4.30"/>
<circle cx="351.3" cy="286.2" r="4.30"/>
<circle cx="364.1" cy="270.3" r="4.30"/>
<circle cx="346.7" cy="285.6" r="4.30"/>
<circle cx="373.0" cy="286.4" r="4.30"/>
<circle cx="359.1" cy="281.1" r="4.30"/>
<circle cx="364.5" cy="284.6" r="4.30"/>
<circle cx="353.7" cy="290.2" r="4.30"/>
<circle cx="370.5" cy="288.9" r="4.30"/>
<circle cx="359.4" cy="286.3" r="4.30"/>
<circle cx="352.8" cy="273.2" r="4.30"/>
<circle cx="369.9" cy="278.1" r="4.30"/>
<circle cx="338.5" cy="284.2" r="4.30"/>
<circle cx="355.6" cy="275.4" r="4.30"/>
<circle cx="356.0" cy="292.3" r="4.30"/>
<circle cx="351.2" cy="275.8" r="4.30"/>
<circle cx="351.5" cy="279.1" r="4.30"/>
<circle cx="364.6" cy="287.8" r="4.30"/>
<circle cx="365.8" cy="296.0" r="4.30"/>
<circle cx="355.5" cy="279.5" r="4.30"/>
<circle cx="370.9" cy="275.2" r="4.30"/>
<circle cx="346.1" cy="281.8" r="4.30"/>
<circle cx="360.5" cy="270.2" r="4.30"/>
<circle cx="361.9" cy="273.2" r="4.30"/>
<circle cx="375.4" cy="283.2" r="4.30"/>
<circle cx="354.7" cy="284.3" r="4.30"/>
<circle cx="343.1" cy="286.0" r="4.30"/>
<circle cx="343.1" cy="279.7" r="4.30"/>
<circle cx="366.1" cy="280.5" r="4.30"/>
<circle cx="367.6" cy="284.3" r="4.30"/>
<circle cx="366.1" cy="277.3" r="4.30"/>
<circle cx="348.4" cy="288.4" r="4.30"/>
<circle cx="347.1" cy="277.5" r="4.30"/>
<circle cx="374.7" cy="280.0" r="4.30"/>
<circle cx="356.3" cy="288.5" r="4.30"/>
<circle cx="363.1" cy="279.7" r="4.30"/>
<circle cx="358.2" cy="277.4" r="4.30"/>
<circle cx="358.7" cy="294.4" r="4.30"/>
<circle cx="365.6" cy="273.1" r="4.30"/>
<circle cx="361.7" cy="282.8" r="4.30"/>
<circle cx="339.2" cy="281.2" r="4.30"/>
<circle cx="378.7" cy="283.5" r="4.30"/>
<circle cx="319.5" cy="283.1" r="4.30"/>
<circle cx="325.9" cy="282.3" r="4.30"/>
<circle cx="329.1" cy="282.8" r="4.30"/>
</g>
<g fill="#ee7674" fill-opacity="0.65" stroke="#ee7674" stroke-opacity="0.65" stroke-width="1.1">
<circle cx="337.3" cy="327.2" r="4.30"/>
<circle cx="367.6" cy="311.2" r="4.30"/>
<circle cx="373.5" cy="312.5" r="4.30"/>
<circle cx="376.8" cy="315.1" r="4.30"/>
<circle cx="378.1" cy="317.8" r="4.30"/>
<circle cx="374.1" cy="317.8" r="4.30"/>
<circle cx="371.5" cy="319.1" r="4.30"/>
<circle cx="361.0" cy="321.1" r="4.30"/>
<circle cx="356.4" cy="327.0" r="4.30"/>
<circle cx="354.4" cy="332.9" r="4.30"/>
<circle cx="358.4" cy="336.2" r="4.30"/>
<circle cx="366.2" cy="334.8" r="4.30"/>
<circle cx="364.9" cy="341.4" r="4.30"/>
<circle cx="375.4" cy="330.9" r="4.30"/>
<circle cx="387.3" cy="327.0" r="4.30"/>
<circle cx="396.2" cy="328.3" r="4.30"/>
<circle cx="359.7" cy="328.3" r="4.30"/>
</g>
<line x1="357.95" y1="351" x2="357.95" y2="259" stroke="#aaaaaa" stroke-width="2" stroke-dasharray="8.6,8.7"/>
<line x1="352" y1="283.1" x2="365" y2="283.1" stroke="#000" stroke-width="1.7"/>
<circle cx="358.5" cy="283.1" r="5.5" fill="#fff" stroke="#000" stroke-width="1.7"/>
<line x1="354.2" y1="325.6" x2="377.8" y2="325.6" stroke="#000" stroke-width="1.7"/>
<circle cx="366" cy="325.6" r="5.5" fill="#fff" stroke="#000" stroke-width="1.7"/>
<rect x="258" y="259" width="200" height="92" fill="none" stroke="#000" stroke-width="2"/>
<line x1="266.1" y1="352" x2="266.1" y2="354" stroke="#333" stroke-width="1"/>
<line x1="312.0" y1="352" x2="312.0" y2="354" stroke="#333" stroke-width="1"/>
<line x1="357.9" y1="352" x2="357.9" y2="354" stroke="#333" stroke-width="1"/>
<line x1="403.9" y1="352" x2="403.9" y2="354" stroke="#333" stroke-width="1"/>
<line x1="449.8" y1="352" x2="449.8" y2="354" stroke="#333" stroke-width="1"/>
<text x="271.1" y="374.6" font-family="'Liberation Serif', serif" font-weight="bold" font-size="16" text-anchor="end">-2</text>
<text x="317.0" y="374.6" font-family="'Liberation Serif', serif" font-weight="bold" font-size="16" text-anchor="end">-1</text>
<text x="362.3" y="374.6" font-family="'Liberation Serif', serif" font-weight="bold" font-size="16" text-anchor="end">0</text>
<text x="408.3" y="374.6" font-family="'Liberation Serif', serif" font-weight="bold" font-size="16" text-anchor="end">1</text>
<text x="454.2" y="374.6" font-family="'Liberation Serif', serif" font-weight="bold" font-size="16" text-anchor="end">2</text>
<g fill="#50d6c8" fill-opacity="0.65" stroke="#50d6c8" stroke-opacity="0.65" stroke-width="1.1">
<circle cx="564.1" cy="51.7" r="4.30"/>
<circle cx="567.8" cy="49.1" r="4.30"/>
<circle cx="571.4" cy="49.2" r="4.30"/>
<circle cx="572.5" cy="54.3" r="4.30"/>
<circle cx="576.8" cy="42.3" r="4.30"/>
<circle cx="575.6" cy="59.3" r="4.30"/>
<circle cx="580.7" cy="34.1" r="4.30"/>
<circle cx="580.4" cy="66.5" r="4.30"/>
<circle cx="584.8" cy="33.9" r="4.30"/>
<circle cx="584.7" cy="68.5" r="4.30"/>
<circle cx="589.2" cy="37.2" r="4.30"/>
<circle cx="588.8" cy="63.7" r="4.30"/>
<circle cx="592.5" cy="44.2" r="4.30"/>
<circle cx="592.3" cy="55.7" r="4.30"/>
<circle cx="596.9" cy="45.9" r="4.30"/>
<circle cx="595.9" cy="53.1" r="4.30"/>
<circle cx="601.5" cy="46.6" r="4.30"/>
<circle cx="600.4" cy="52.3" r="4.30"/>
<circle cx="604.1" cy="47.2" r="4.30"/>
<circle cx="604.6" cy="52.7" r="4.30"/>
<circle cx="581.0" cy="52.6" r="4.30"/>
<circle cx="582.3" cy="58.6" r="4.30"/>
<circle cx="578.5" cy="36.5" r="4.30"/>
<circle cx="596.3" cy="49.5" r="4.30"/>
<circle cx="576.1" cy="49.1" r="4.30"/>
<circle cx="582.2" cy="38.8" r="4.30"/>
<circle cx="587.3" cy="54.1" r="4.30"/>
<circle cx="583.2" cy="63.2" r="4.30"/>
<circle cx="580.6" cy="46.3" r="4.30"/>
<circle cx="588.5" cy="58.1" r="4.30"/>
<circle cx="584.8" cy="50.5" r="4.30"/>
<circle cx="588.5" cy="47.7" r="4.30"/>
<circle cx="579.6" cy="55.7" r="4.30"/>
<circle cx="588.2" cy="42.3" r="4.30"/>
<circle cx="582.6" cy="42.1" r="4.30"/>
<circle cx="577.0" cy="52.5" r="4.30"/>
<circle cx="592.6" cy="51.0" r="4.30"/>
<circle cx="579.3" cy="63.1" r="4.30"/>
<circle cx="585.7" cy="37.6" r="4.30"/>
<circle cx="576.7" cy="45.6" r="4.30"/>
<circle cx="592.0" cy="47.8" r="4.30"/>
<circle cx="586.1" cy="44.8" r="4.30"/>
<circle cx="585.4" cy="56.9" r="4.30"/>
<circle cx="575.2" cy="56.0" r="4.30"/>
<circle cx="585.5" cy="60.2" r="4.30"/>
<circle cx="552.7" cy="50.9" r="4.30"/>
<circle cx="555.9" cy="50.5" r="4.30"/>
<circle cx="615.0" cy="50.9" r="4.30"/>
</g>
<g fill="#ee7674" fill-opacity="0.65" stroke="#ee7674" stroke-opacity="0.65" stroke-width="1.1">
<circle cx="574.1" cy="91.2" r="4.30"/>
<circle cx="574.9" cy="94.9" r="4.30"/>
<circle cx="578.4" cy="87.7" r="4.30"/>
<circle cx="579.4" cy="99.7" r="4.30"/>
<circle cx="583.1" cy="84.4" r="4.30"/>
<circle cx="583.3" cy="102.2" r="4.30"/>
<circle cx="587.8" cy="82.8" r="4.30"/>
<circle cx="587.0" cy="104.4" r="4.30"/>
<circle cx="591.4" cy="82.1" r="4.30"/>
<circle cx="591.6" cy="101.0" r="4.30"/>
<circle cx="595.2" cy="83.2" r="4.30"/>
<circle cx="595.2" cy="99.7" r="4.30"/>
<circle cx="600.2" cy="84.4" r="4.30"/>
<circle cx="599.4" cy="99.5" r="4.30"/>
<circle cx="604.0" cy="87.6" r="4.30"/>
<circle cx="603.8" cy="97.6" r="4.30"/>
<circle cx="607.6" cy="91.0" r="4.30"/>
<circle cx="607.8" cy="95.5" r="4.30"/>
<circle cx="613.0" cy="93.3" r="4.30"/>
<circle cx="616.6" cy="93.2" r="4.30"/>
<circle cx="600.4" cy="94.5" r="4.30"/>
<circle cx="587.5" cy="90.4" r="4.30"/>
<circle cx="594.0" cy="95.1" r="4.30"/>
<circle cx="595.3" cy="87.2" r="4.30"/>
<circle cx="587.6" cy="96.9" r="4.30"/>
<circle cx="581.7" cy="92.7" r="4.30"/>
<circle cx="590.7" cy="93.3" r="4.30"/>
<circle cx="584.1" cy="95.9" r="4.30"/>
<circle cx="583.6" cy="88.4" r="4.30"/>
<circle cx="601.1" cy="90.4" r="4.30"/>
<circle cx="587.3" cy="100.7" r="4.30"/>
<circle cx="577.9" cy="91.9" r="4.30"/>
<circle cx="594.0" cy="92.1" r="4.30"/>
<circle cx="590.6" cy="97.6" r="4.30"/>
<circle cx="591.3" cy="85.6" r="4.30"/>
<circle cx="586.0" cy="85.2" r="4.30"/>
<circle cx="579.4" cy="95.4" r="4.30"/>
<circle cx="597.3" cy="92.1" r="4.30"/>
<circle cx="609.9" cy="93.0" r="4.30"/>
<circle cx="598.6" cy="87.5" r="4.30"/>
<circle cx="604.8" cy="93.1" r="4.30"/>
<circle cx="592.6" cy="89.0" r="4.30"/>
<circle cx="585.6" cy="93.1" r="4.30"/>
<circle cx="597.1" cy="95.6" r="4.30"/>
<circle cx="565.1" cy="93.4" r="4.30"/>
<circle cx="569.1" cy="93.4" r="4.30"/>
<circle cx="629.3" cy="92.9" r="4.30"/>
<circle cx="638.9" cy="92.9" r="4.30"/>
</g>
<line x1="582.6" y1="118" x2="582.6" y2="26" stroke="#aaaaaa" stroke-width="2" stroke-dasharray="8.6,8.7"/>
<line x1="579" y1="50.1" x2="591" y2="50.1" stroke="#000" stroke-width="1.7"/>
<circle cx="585.1" cy="50.1" r="5.5" fill="#fff" stroke="#000" stroke-width="1.7"/>
<line x1="587.3" y1="92.9" x2="602" y2="92.9" stroke="#000" stroke-width="1.7"/>
<circle cx="595.1" cy="92.9" r="5.5" fill="#fff" stroke="#000" stroke-width="1.7"/>
<rect x="482.5" y="26" width="200.5" height="92" fill="none" stroke="#000" stroke-width="2"/>
<line x1="490.8" y1="119" x2="490.8" y2="121" stroke="#333" stroke-width="1"/>
<line x1="536.7" y1="119" x2="536.7" y2="121" stroke="#333" stroke-width="1"/>
<line x1="582.6" y1="119" x2="582.6" y2="121" stroke="#333" stroke-width="1"/>
<line x1="628.5" y1="119" x2="628.5" y2="121" stroke="#333" stroke-width="1"/>
<line x1="674.4" y1="119" x2="674.4" y2="121" stroke="#333" stroke-width="1"/>
<g fill="#50d6c8" fill-opacity="0.65" stroke="#50d6c8" stroke-opacity="0.65" stroke-width="1.1">
<circle cx="564.8" cy="167.5" r="4.30"/>
<circle cx="568.6" cy="163.8" r="4.30"/>
<circle cx="567.9" cy="168.8" r="4.30"/>
<circle cx="572.3" cy="164.0" r="4.30"/>
<circle cx="572.9" cy="169.1" r="4.30"/>
<circle cx="576.4" cy="163.7" r="4.30"/>
<circle cx="577.3" cy="170.1" r="4.30"/>
<circle cx="581.1" cy="154.6" r="4.30"/>
<circle cx="580.9" cy="183.7" r="4.30"/>
<circle cx="585.6" cy="153.3" r="4.30"/>
<circle cx="585.3" cy="181.8" r="4.30"/>
<circle cx="589.6" cy="155.0" r="4.30"/>
<circle cx="589.8" cy="178.3" r="4.30"/>
<circle cx="593.5" cy="157.0" r="4.30"/>
<circle cx="593.8" cy="175.7" r="4.30"/>
<circle cx="597.7" cy="158.6" r="4.30"/>
<circle cx="597.1" cy="173.7" r="4.30"/>
<circle cx="601.2" cy="164.5" r="4.30"/>
<circle cx="602.4" cy="167.0" r="4.30"/>
<circle cx="606.4" cy="166.7" r="4.30"/>
<circle cx="611.0" cy="167.2" r="4.30"/>
<circle cx="614.8" cy="167.7" r="4.30"/>
<circle cx="593.0" cy="160.2" r="4.30"/>
<circle cx="580.8" cy="166.4" r="4.30"/>
<circle cx="592.9" cy="163.9" r="4.30"/>
<circle cx="598.8" cy="167.8" r="4.30"/>
<circle cx="594.2" cy="171.1" r="4.30"/>
<circle cx="586.4" cy="170.4" r="4.30"/>
<circle cx="586.5" cy="159.2" r="4.30"/>
<circle cx="594.3" cy="166.9" r="4.30"/>
<circle cx="579.6" cy="174.3" r="4.30"/>
<circle cx="598.5" cy="161.7" r="4.30"/>
<circle cx="590.8" cy="173.6" r="4.30"/>
<circle cx="579.3" cy="161.5" r="4.30"/>
<circle cx="586.0" cy="162.9" r="4.30"/>
<circle cx="587.2" cy="166.4" r="4.30"/>
<circle cx="583.9" cy="165.4" r="4.30"/>
<circle cx="582.0" cy="177.9" r="4.30"/>
<circle cx="579.5" cy="158.1" r="4.30"/>
<circle cx="584.6" cy="174.7" r="4.30"/>
<circle cx="583.1" cy="158.5" r="4.30"/>
<circle cx="582.3" cy="169.5" r="4.30"/>
<circle cx="587.4" cy="176.2" r="4.30"/>
<circle cx="526.6" cy="166.1" r="4.30"/>
</g>
<g fill="#ee7674" fill-opacity="0.65" stroke="#ee7674" stroke-opacity="0.65" stroke-width="1.1">
<circle cx="563.3" cy="209.7" r="4.30"/>
<circle cx="567.7" cy="210.2" r="4.30"/>
<circle cx="570.7" cy="209.6" r="4.30"/>
<circle cx="575.2" cy="209.5" r="4.30"/>
<circle cx="574.7" cy="213.5" r="4.30"/>
<circle cx="579.5" cy="206.1" r="4.30"/>
<circle cx="579.3" cy="215.3" r="4.30"/>
<circle cx="583.0" cy="202.1" r="4.30"/>
<circle cx="583.5" cy="217.9" r="4.30"/>
<circle cx="586.7" cy="199.4" r="4.30"/>
<circle cx="587.5" cy="219.6" r="4.30"/>
<circle cx="591.4" cy="198.4" r="4.30"/>
<circle cx="591.4" cy="220.7" r="4.30"/>
<circle cx="595.4" cy="199.8" r="4.30"/>
<circle cx="595.2" cy="218.3" r="4.30"/>
<circle cx="600.0" cy="201.7" r="4.30"/>
<circle cx="600.3" cy="214.9" r="4.30"/>
<circle cx="604.5" cy="203.1" r="4.30"/>
<circle cx="604.2" cy="216.1" r="4.30"/>
<circle cx="608.4" cy="204.0" r="4.30"/>
<circle cx="607.5" cy="216.7" r="4.30"/>
<circle cx="612.2" cy="206.1" r="4.30"/>
<circle cx="612.7" cy="212.6" r="4.30"/>
<circle cx="615.7" cy="209.9" r="4.30"/>
<circle cx="589.0" cy="208.8" r="4.30"/>
<circle cx="592.1" cy="204.5" r="4.30"/>
<circle cx="593.7" cy="209.0" r="4.30"/>
<circle cx="605.4" cy="212.3" r="4.30"/>
<circle cx="578.6" cy="210.4" r="4.30"/>
<circle cx="583.8" cy="213.4" r="4.30"/>
<circle cx="596.1" cy="204.0" r="4.30"/>
<circle cx="598.5" cy="211.9" r="4.30"/>
<circle cx="601.2" cy="205.0" r="4.30"/>
<circle cx="586.4" cy="204.1" r="4.30"/>
<circle cx="585.8" cy="210.0" r="4.30"/>
<circle cx="611.9" cy="209.5" r="4.30"/>
<circle cx="602.5" cy="209.3" r="4.30"/>
<circle cx="583.2" cy="208.0" r="4.30"/>
<circle cx="606.6" cy="208.7" r="4.30"/>
<circle cx="587.7" cy="214.3" r="4.30"/>
<circle cx="593.6" cy="215.4" r="4.30"/>
<circle cx="591.3" cy="211.6" r="4.30"/>
<circle cx="609.6" cy="211.9" r="4.30"/>
<circle cx="598.7" cy="207.9" r="4.30"/>
<circle cx="590.2" cy="202.0" r="4.30"/>
<circle cx="589.8" cy="216.9" r="4.30"/>
<circle cx="589.2" cy="205.7" r="4.30"/>
<circle cx="545.3" cy="209.9" r="4.30"/>
<circle cx="553.3" cy="209.9" r="4.30"/>
<circle cx="621.5" cy="209.1" r="4.30"/>
<circle cx="630.4" cy="209.9" r="4.30"/>
</g>
<line x1="582.6" y1="234" x2="582.6" y2="142" stroke="#aaaaaa" stroke-width="2" stroke-dasharray="8.6,8.7"/>
<line x1="580" y1="166.9" x2="593" y2="166.9" stroke="#000" stroke-width="1.7"/>
<circle cx="586.8" cy="166.9" r="5.5" fill="#fff" stroke="#000" stroke-width="1.7"/>
<line x1="584" y1="209.4" x2="598" y2="209.4" stroke="#000" stroke-width="1.7"/>
<circle cx="591" cy="209.4" r="5.5" fill="#fff" stroke="#000" stroke-width="1.7"/>
<rect x="482.5" y="142" width="200.5" height="92" fill="none" stroke="#000" stroke-width="2"/>
<line x1="490.8" y1="235" x2="490.8" y2="237" stroke="#333" stroke-width="1"/>
<line x1="536.7" y1="235" x2="536.7" y2="237" stroke="#333" stroke-width="1"/>
<line x1="582.6" y1="235" x2="582.6" y2="237" stroke="#333" stroke-width="1"/>
<line x1="628.5" y1="235" x2="628.5" y2="237" stroke="#333" stroke-width="1"/>
<line x1="674.4" y1="235" x2="674.4" y2="237" stroke="#333" stroke-width="1"/>
<g fill="#50d6c8" fill-opacity="0.65" stroke="#50d6c8" stroke-opacity="0.65" stroke-width="1.1">
<circle cx="558.0" cy="283.5" r="4.30"/>
<circle cx="562.7" cy="281.4" r="4.30"/>
<circle cx="561.9" cy="285.5" r="4.30"/>
<circle cx="565.8" cy="280.7" r="4.30"/>
<circle cx="566.0" cy="285.2" r="4.30"/>
<circle cx="570.6" cy="280.6" r="4.30"/>
<circle cx="570.1" cy="285.0" r="4.30"/>
<circle cx="574.0" cy="275.5" r="4.30"/>
<circle cx="573.4" cy="291.0" r="4.30"/>
<circle cx="578.8" cy="272.7" r="4.30"/>
<circle cx="578.1" cy="293.2" r="4.30"/>
<circle cx="582.5" cy="271.3" r="4.30"/>
<circle cx="582.8" cy="294.8" r="4.30"/>
<circle cx="586.4" cy="272.0" r="4.30"/>
<circle cx="586.4" cy="294.0" r="4.30"/>
<circle cx="590.5" cy="277.5" r="4.30"/>
<circle cx="590.5" cy="290.4" r="4.30"/>
<circle cx="594.7" cy="282.3" r="4.30"/>
<circle cx="598.6" cy="282.1" r="4.30"/>
<circle cx="602.4" cy="283.4" r="4.30"/>
<circle cx="606.4" cy="283.1" r="4.30"/>
<circle cx="610.1" cy="283.4" r="4.30"/>
<circle cx="581.8" cy="276.4" r="4.30"/>
<circle cx="591.1" cy="285.3" r="4.30"/>
<circle cx="581.1" cy="287.5" r="4.30"/>
<circle cx="582.2" cy="284.2" r="4.30"/>
<circle cx="586.4" cy="281.6" r="4.30"/>
<circle cx="585.3" cy="275.9" r="4.30"/>
<circle cx="581.3" cy="290.7" r="4.30"/>
<circle cx="572.4" cy="287.7" r="4.30"/>
<circle cx="577.9" cy="276.0" r="4.30"/>
<circle cx="576.2" cy="285.7" r="4.30"/>
<circle cx="576.9" cy="289.0" r="4.30"/>
<circle cx="587.4" cy="286.3" r="4.30"/>
<circle cx="586.0" cy="290.9" r="4.30"/>
<circle cx="579.9" cy="279.7" r="4.30"/>
<circle cx="574.1" cy="282.2" r="4.30"/>
<circle cx="583.8" cy="279.6" r="4.30"/>
<circle cx="575.5" cy="279.2" r="4.30"/>
<circle cx="578.5" cy="283.2" r="4.30"/>
<circle cx="591.5" cy="281.3" r="4.30"/>
<circle cx="535.4" cy="283.5" r="4.30"/>
<circle cx="539.5" cy="283.5" r="4.30"/>
<circle cx="548.3" cy="283.5" r="4.30"/>
<circle cx="553.9" cy="283.5" r="4.30"/>
</g>
<g fill="#ee7674" fill-opacity="0.65" stroke="#ee7674" stroke-opacity="0.65" stroke-width="1.1">
<circle cx="563.7" cy="325.6" r="4.30"/>
<circle cx="568.6" cy="325.4" r="4.30"/>
<circle cx="571.3" cy="323.6" r="4.30"/>
<circle cx="572.0" cy="326.8" r="4.30"/>
<circle cx="576.5" cy="318.6" r="4.30"/>
<circle cx="576.2" cy="330.7" r="4.30"/>
<circle cx="579.8" cy="310.0" r="4.30"/>
<circle cx="580.1" cy="340.2" r="4.30"/>
<circle cx="583.9" cy="309.4" r="4.30"/>
<circle cx="583.5" cy="342.6" r="4.30"/>
<circle cx="588.6" cy="310.1" r="4.30"/>
<circle cx="588.3" cy="341.2" r="4.30"/>
<circle cx="592.6" cy="316.1" r="4.30"/>
<circle cx="593.1" cy="333.1" r="4.30"/>
<circle cx="595.9" cy="322.7" r="4.30"/>
<circle cx="597.1" cy="327.7" r="4.30"/>
<circle cx="599.9" cy="324.6" r="4.30"/>
<circle cx="605.3" cy="325.6" r="4.30"/>
<circle cx="609.1" cy="325.6" r="4.30"/>
<circle cx="612.6" cy="325.6" r="4.30"/>
<circle cx="616.7" cy="325.6" r="4.30"/>
<circle cx="621.7" cy="325.6" r="4.30"/>
<circle cx="624.5" cy="325.6" r="4.30"/>
<circle cx="582.4" cy="316.6" r="4.30"/>
<circle cx="585.5" cy="318.2" r="4.30"/>
<circle cx="579.7" cy="329.8" r="4.30"/>
<circle cx="578.2" cy="324.0" r="4.30"/>
<circle cx="587.8" cy="313.1" r="4.30"/>
<circle cx="592.8" cy="322.2" r="4.30"/>
<circle cx="577.9" cy="333.9" r="4.30"/>
<circle cx="588.7" cy="325.0" r="4.30"/>
<circle cx="593.0" cy="328.2" r="4.30"/>
<circle cx="582.5" cy="331.6" r="4.30"/>
<circle cx="582.9" cy="323.3" r="4.30"/>
<circle cx="578.1" cy="314.5" r="4.30"/>
<circle cx="588.4" cy="329.8" r="4.30"/>
<circle cx="588.7" cy="319.2" r="4.30"/>
<circle cx="575.1" cy="327.6" r="4.30"/>
<circle cx="574.9" cy="323.6" r="4.30"/>
<circle cx="587.1" cy="335.9" r="4.30"/>
<circle cx="581.2" cy="334.9" r="4.30"/>
<circle cx="583.2" cy="328.2" r="4.30"/>
<circle cx="580.2" cy="321.3" r="4.30"/>
<circle cx="584.5" cy="313.0" r="4.30"/>
<circle cx="584.1" cy="337.6" r="4.30"/>
<circle cx="589.5" cy="332.9" r="4.30"/>
<circle cx="591.1" cy="312.8" r="4.30"/>
<circle cx="586.0" cy="332.7" r="4.30"/>
<circle cx="586.8" cy="322.0" r="4.30"/>
<circle cx="585.2" cy="325.7" r="4.30"/>
<circle cx="541.6" cy="325.7" r="4.30"/>
<circle cx="551.3" cy="325.7" r="4.30"/>
<circle cx="557.4" cy="325.9" r="4.30"/>
<circle cx="636.2" cy="325.7" r="4.30"/>
</g>
<line x1="582.6" y1="351" x2="582.6" y2="259" stroke="#aaaaaa" stroke-width="2" stroke-dasharray="8.6,8.7"/>
<line x1="572" y1="283.1" x2="585" y2="283.1" stroke="#000" stroke-width="1.7"/>
<circle cx="578.5" cy="283.1" r="5.5" fill="#fff" stroke="#000" stroke-width="1.7"/>
<line x1="579" y1="325.7" x2="592" y2="325.7" stroke="#000" stroke-width="1.7"/>
<circle cx="585.4" cy="325.7" r="5.5" fill="#fff" stroke="#000" stroke-width="1.7"/>
<rect x="482.5" y="259" width="200.5" height="92" fill="none" stroke="#000" stroke-width="2"/>
<line x1="490.8" y1="352" x2="490.8" y2="354" stroke="#333" stroke-width="1"/>
<line x1="536.7" y1="352" x2="536.7" y2="354" stroke="#333" stroke-width="1"/>
<line x1="582.6" y1="352" x2="582.6" y2="354" stroke="#333" stroke-width="1"/>
<line x1="628.5" y1="352" x2="628.5" y2="354" stroke="#333" stroke-width="1"/>
<line x1="674.4" y1="352" x2="674.4" y2="354" stroke="#333" stroke-width="1"/>
<text x="495.8" y="374.6" font-family="'Liberation Serif', serif" font-weight="bold" font-size="16" text-anchor="end">-2</text>
<text x="541.7" y="374.6" font-family="'Liberation Serif', serif" font-weight="bold" font-size="16" text-anchor="end">-1</text>
<text x="587.0" y="374.6" font-family="'Liberation Serif', serif" font-weight="bold" font-size="16" text-anchor="end">0</text>
<text x="632.9" y="374.6" font-family="'Liberation Serif', serif" font-weight="bold" font-size="16" text-anchor="end">1</text>
<text x="678.8" y="374.6" font-family="'Liberation Serif', serif" font-weight="bold" font-size="16" text-anchor="end">2</text>
<circle cx="42.9" cy="51.6" r="5.1" fill="#5cd8ca"/>
<circle cx="42.9" cy="93.8" r="5.1" fill="#ee7674"/>
<text x="53.7" y="55.8" font-family="'Liberation Serif', serif" font-weight="bold" font-size="11.5">P alone</text>
<text x="53.7" y="98.1" font-family="'Liberation Serif', serif" font-weight="bold" font-size="11.5">P with N</text>
<text x="196.4" y="52.4" font-family="'Liberation Serif', serif" font-weight="bold" font-size="13.6">10%</text>
<text x="196.5" y="95.0" font-family="'Liberation Serif', serif" font-weight="bold" font-size="13.6">18%</text>
<text x="418.8" y="52.0" font-family="'Liberation Serif', serif" font-weight="bold" font-size="13.6">31%</text>
<text x="418.7" y="94.8" font-family="'Liberation Serif', serif" font-weight="bold" font-size="13.6">-2%<tspan dx="0.4" dy="-3.9" font-size="9.2">ns</tspan></text>
<text x="645.6" y="52.0" font-family="'Liberation Serif', serif" font-weight="bold" font-size="13.6">6%<tspan dx="0.4" dy="-3.9" font-size="9.2">ns</tspan></text>
<text x="645.6" y="94.6" font-family="'Liberation Serif', serif" font-weight="bold" font-size="13.6">32%</text>
<text x="196.5" y="171.6" font-family="'Liberation Serif', serif" font-weight="bold" font-size="13.6">10%<tspan dx="0.4" dy="-3.9" font-size="9.2">ns</tspan></text>
<text x="196.1" y="214.4" font-family="'Liberation Serif', serif" font-weight="bold" font-size="13.6">21%</text>
<text x="418.8" y="171.6" font-family="'Liberation Serif', serif" font-weight="bold" font-size="13.6">-5%<tspan dx="0.4" dy="-3.9" font-size="9.2">ns</tspan></text>
<text x="419.8" y="214.3" font-family="'Liberation Serif', serif" font-weight="bold" font-size="13.6">26%<tspan dx="0.4" dy="-3.9" font-size="9.2">ns</tspan></text>
<text x="643.6" y="171.6" font-family="'Liberation Serif', serif" font-weight="bold" font-size="13.6">10%<tspan dx="0.4" dy="-3.9" font-size="9.2">ns</tspan></text>
<text x="645.6" y="214.4" font-family="'Liberation Serif', serif" font-weight="bold" font-size="13.6">22%</text>
<text x="195.6" y="286.4" font-family="'Liberation Serif', serif" font-weight="bold" font-size="13.6">-28%</text>
<text x="195.6" y="329.0" font-family="'Liberation Serif', serif" font-weight="bold" font-size="13.6">-20%</text>
<text x="418.8" y="286.4" font-family="'Liberation Serif', serif" font-weight="bold" font-size="13.6">2%<tspan dx="0.4" dy="-3.9" font-size="9.2">ns</tspan></text>
<text x="418.8" y="329.0" font-family="'Liberation Serif', serif" font-weight="bold" font-size="13.6">23%<tspan dx="0.4" dy="-3.9" font-size="9.2">ns</tspan></text>
<text x="645.6" y="286.4" font-family="'Liberation Serif', serif" font-weight="bold" font-size="13.6">-8%<tspan dx="0.4" dy="-3.9" font-size="9.2">ns</tspan></text>
<text x="647.7" y="329.0" font-family="'Liberation Serif', serif" font-weight="bold" font-size="13.6">8%<tspan dx="0.4" dy="-3.9" font-size="9.2">ns</tspan></text>
</svg></body></html>
